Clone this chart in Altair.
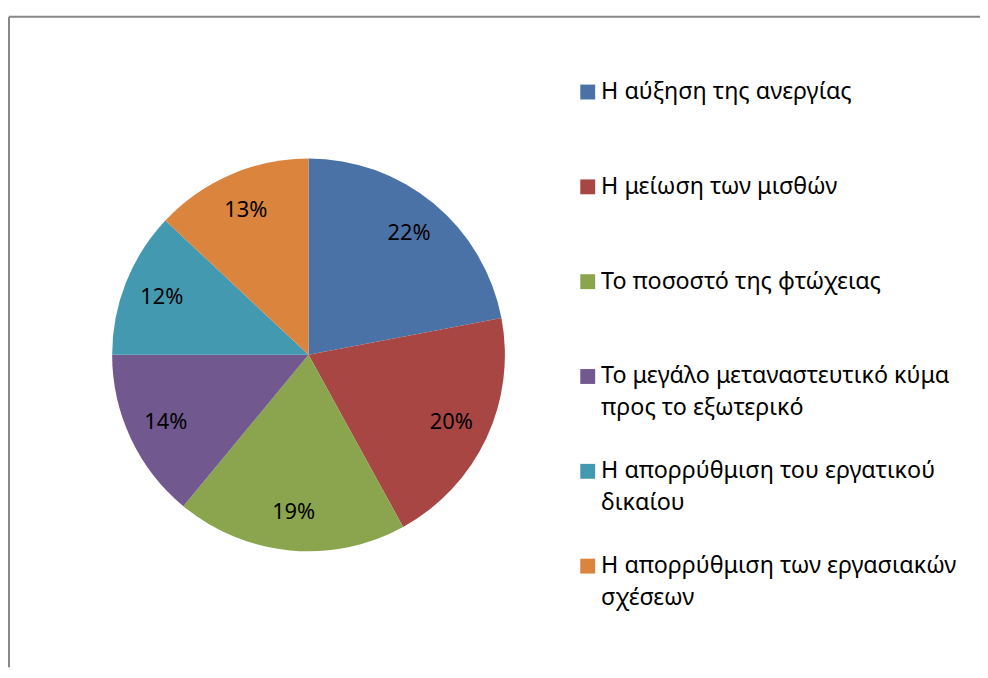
import altair as alt
import pandas as pd

categories = [
    "Η αύξηση της ανεργίας",
    "Η μείωση των μισθών",
    "Το ποσοστό της φτώχειας",
    "Το μεγάλο μεταναστευτικό κύμα\nπρος το εξωτερικό",
    "Η απορρύθμιση του εργατικού\nδικαίου",
    "Η απορρύθμιση των εργασιακών\nσχέσεων",
]
values = [22, 20, 19, 14, 12, 13]
pct_labels = ["22%", "20%", "19%", "14%", "12%", "13%"]
colors = ["#4A72A6", "#A84643", "#8AA54D", "#71588F", "#4299B0", "#DB843D"]

df = pd.DataFrame({
    "idx": list(range(len(categories))),
    "cat": categories,
    "value": values,
    "label": pct_labels,
})

color_enc = alt.Color("idx:N", scale=alt.Scale(domain=list(range(len(categories))), range=colors), legend=None)
cx, cy, R = 303, 347, 198
FONT = "Noto Sans"

base = alt.Chart(df)

pie = base.mark_arc(outerRadius=R).encode(
    theta=alt.Theta("value:Q", stack=True),
    order=alt.Order("idx:Q"),
    color=color_enc,
    x=alt.value(cx), y=alt.value(cy),
)

pie_text = base.mark_text(radius=159, font=FONT, fontSize=22, color="black").encode(
    theta=alt.Theta("value:Q", stack=True),
    order=alt.Order("idx:Q"),
    text="label:N",
    x=alt.value(cx), y=alt.value(cy),
)

leg_y = alt.Y("idx:Q", scale=alt.Scale(domain=[0, 5], range=[82, 560]), axis=None)

leg_sq = base.mark_square(size=225, opacity=1, filled=True).encode(
    x=alt.value(584.5), y=leg_y, color=color_enc,
)

leg_txt = base.mark_text(
    align="left", baseline="middle", font=FONT, fontSize=23.5,
    lineBreak="\n", lineHeight=32, color="#000000",
).encode(
    x=alt.value(598), y=leg_y, text="cat:N",
)

frame_data = pd.DataFrame({"k": [0]})
top_rule = alt.Chart(frame_data).mark_rule(color="#878787", strokeWidth=2).encode(
    x=alt.value(1), x2=alt.value(980), y=alt.value(6),
)
left_rule = alt.Chart(frame_data).mark_rule(color="#878787", strokeWidth=2).encode(
    x=alt.value(1), y=alt.value(6), y2=alt.value(662),
)

chart = alt.layer(top_rule, left_rule, pie, pie_text, leg_sq, leg_txt).properties(
    width=980, height=662,
    autosize=alt.AutoSizeParams(type="none"),
    padding=0,
).configure_view(stroke=None)

chart.save("out.html", embed_options={"renderer": "svg", "actions": False})
